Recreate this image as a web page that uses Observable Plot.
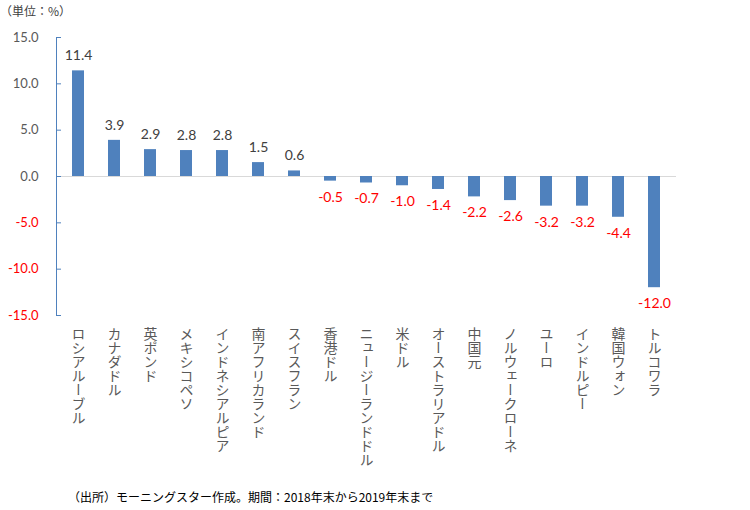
<!DOCTYPE html>
<html><head><meta charset="utf-8">
<script src="https://cdn.jsdelivr.net/npm/d3@7"></script>
<script src="https://cdn.jsdelivr.net/npm/@observablehq/plot@0.6"></script>
<style>
body{margin:0;background:#fff;font-family:"Noto Sans CJK JP",sans-serif;}
#wrap{position:relative;width:750px;height:510px;overflow:hidden;}
#title{position:absolute;left:0;top:3px;font-size:12px;line-height:16px;color:#404040;}
#chart{position:absolute;left:0;top:22px;}
#caption{position:absolute;left:68px;top:489px;font-size:12px;line-height:16px;color:#000;}
</style></head><body>
<div id="wrap">
<div id="title">（単位：%）</div>
<div id="chart"></div>
<div id="caption">（出所）モーニングスター作成。期間：2018年末から2019年末まで</div>
</div>
<script>
const currencies = ["ロシアルーブル","カナダドル","英ポンド","メキシコペソ","インドネシアルピア","南アフリカランド","スイスフラン","香港ドル","ニュージーランドドル","米ドル","オーストラリアドル","中国元","ノルウェークローネ","ユーロ","インドルピー","韓国ウォン","トルコワラ"];
const changes = [11.4, 3.9, 2.9, 2.8, 2.8, 1.5, 0.6, -0.5, -0.7, -1.0, -1.4, -2.2, -2.6, -3.2, -3.2, -4.4, -12.0];
const yTicks = [15, 10, 5, 0, -5, -10, -15];

const data = currencies.map((c, i) => ({currency: c, change: changes[i]}));
const blue = "#4f81bd";

const plot = Plot.plot({
  width: 750, height: 460,
  marginTop: 15, marginBottom: 167, marginLeft: 56, marginRight: 74,
  style: {fontFamily: "Lato, 'Noto Sans CJK JP', sans-serif", background: "transparent", overflow: "visible"},
  x: {type: "band", domain: currencies, paddingInner: 0.66, paddingOuter: 0.33, axis: null},
  y: {domain: [-15, 15], axis: null},
  marks: [
    Plot.ruleY([0], {stroke: "#d9d9d9", strokeWidth: 1}),
    Plot.barY(data, {x: "currency", y: "change", fill: blue}),
    Plot.frame({anchor: "left", stroke: blue}),
    Plot.tickY(yTicks, {y: d => d, stroke: blue, insetRight: 615}),
    Plot.text(yTicks, {y: d => d, frameAnchor: "left", textAnchor: "end", dx: -18,
      text: d => d.toFixed(1), fill: d => d < 0 ? "#ff0000" : "#595959", fontSize: 13}),
    Plot.text(data.filter(d => d.change >= 0), {x: "currency", y: "change",
      text: d => d.change.toFixed(1), dy: -15, fill: "#404040", fontSize: 14}),
    Plot.text(data.filter(d => d.change < 0), {x: "currency", y: "change",
      text: d => d.change.toFixed(1), dy: 16, fill: "#ff0000", fontSize: 14}),
    Plot.text(currencies, {x: d => d, frameAnchor: "bottom", text: d => d, dy: 11,
      fill: "#595959", fontSize: 14, ariaDescription: "xlabel",
      fontFamily: "'Noto Sans CJK JP', sans-serif"})
  ]
});
d3.select(plot).selectAll('g[aria-description="xlabel"] text')
  .attr("dy", null)
  .attr("text-anchor", "start")
  .style("writing-mode", "vertical-rl");
document.getElementById("chart").appendChild(plot);
</script>
</body></html>
